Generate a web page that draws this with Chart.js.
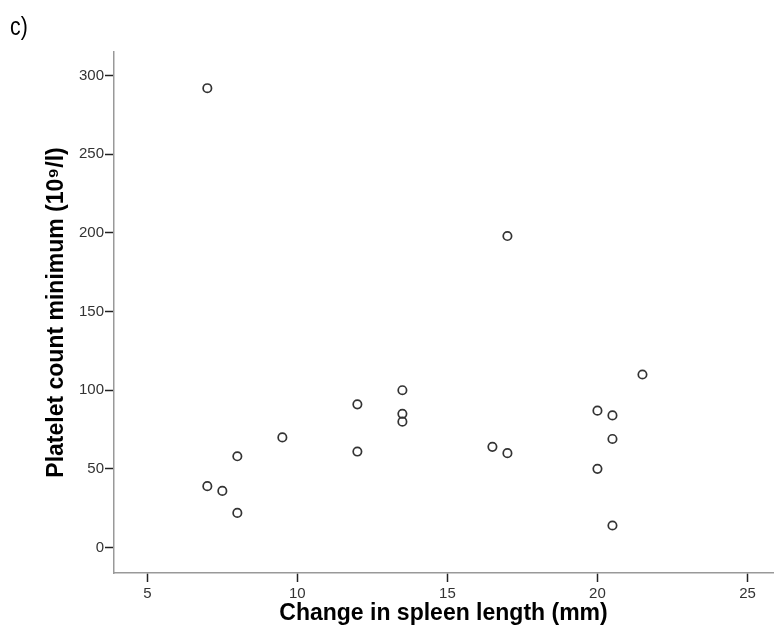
<!DOCTYPE html>
<html>
<head>
<meta charset="utf-8">
<script src="https://cdn.jsdelivr.net/npm/chart.js@4/dist/chart.umd.min.js"></script>
<style>
  html, body { margin: 0; padding: 0; background: #fff; }
  #wrap { position: relative; width: 774px; height: 641px; }
  #panel { position: absolute; left: 10px; top: 12px; font-family: "Liberation Sans", Arial, sans-serif; font-size: 25px; color: #000; transform: scaleX(0.85); transform-origin: left top; }
  canvas { position: absolute; left: 0; top: 0; }
</style>
</head>
<body>
<div id="wrap">
  <canvas id="c" width="774" height="641"></canvas>
  <div id="panel">c)</div>
</div>
<script>
// Change in spleen length (mm)
const spleenChange = [7, 7, 7.5, 8, 8, 9.5, 12, 12, 13.5, 13.5, 13.5, 16.5, 17, 17, 20, 20, 20.5, 20.5, 20.5, 21.5];
// Platelet count minimum (10^9/l)
const plateletMin = [292, 39, 36, 58, 22, 70, 91, 61, 100, 85, 80, 64, 60, 198, 87, 50, 84, 69, 14, 110];
const xTicks = [5, 10, 15, 20, 25];
const yTicks = [0, 50, 100, 150, 200, 250, 300];
const xTitle = "Change in spleen length (mm)";
const yTitle = "Platelet count minimum (10\u2079/l)";

const tickFont = { family: "'Liberation Sans Narrow', 'Arial Narrow', 'Liberation Sans', Arial, sans-serif", size: 15 };
const titleFont = { family: "'Liberation Sans', Arial, sans-serif", size: 23, weight: 'bold' };

const points = spleenChange.map((x, i) => ({ x: x, y: plateletMin[i] }));

new Chart(document.getElementById('c'), {
  type: 'scatter',
  data: {
    datasets: [{
      data: points,
      pointStyle: 'circle',
      pointRadius: 4.2,
      pointHoverRadius: 4.2,
      pointBorderWidth: 1.7,
      borderColor: '#333333',
      backgroundColor: 'rgba(255,255,255,0)'
    }]
  },
  options: {
    responsive: false,
    animation: false,
    events: [],
    layout: { autoPadding: false, padding: { top: 52, right: 1, left: 0, bottom: 0 } },
    plugins: { legend: { display: false }, tooltip: { enabled: false } },
    scales: {
      x: {
        type: 'linear',
        min: 3.89,
        max: 25.85,
        afterFit: s => { s.height = 641 - 573; s.paddingLeft = 0; s.paddingRight = 0; },
        afterBuildTicks: s => { s.ticks = xTicks.map(v => ({ value: v })); },
        grid: { display: true, drawOnChartArea: false, drawTicks: true, tickLength: 9, tickColor: '#222', tickWidth: 1.5 },
        border: { display: true, color: '#999', width: 1.5 },
        ticks: { font: tickFont, color: '#333', padding: 3, maxRotation: 0, autoSkip: false },
        title: { display: true, text: xTitle, font: titleFont, color: '#000', padding: { top: 0, bottom: 14 } }
      },
      y: {
        type: 'linear',
        min: -16.2,
        max: 315,
        afterFit: s => { s.width = 114; s.paddingTop = 0; s.paddingBottom = 0; },
        afterBuildTicks: s => { s.ticks = yTicks.map(v => ({ value: v })); },
        grid: { display: true, drawOnChartArea: false, drawTicks: true, tickLength: 9, tickColor: '#222', tickWidth: 1.5 },
        border: { display: true, color: '#999', width: 1.5 },
        ticks: { font: tickFont, color: '#333', padding: 1, autoSkip: false },
        title: { display: true, text: yTitle, font: titleFont, color: '#000', padding: { top: 43, bottom: 0 } }
      }
    }
  }
});
</script>
</body>
</html>
